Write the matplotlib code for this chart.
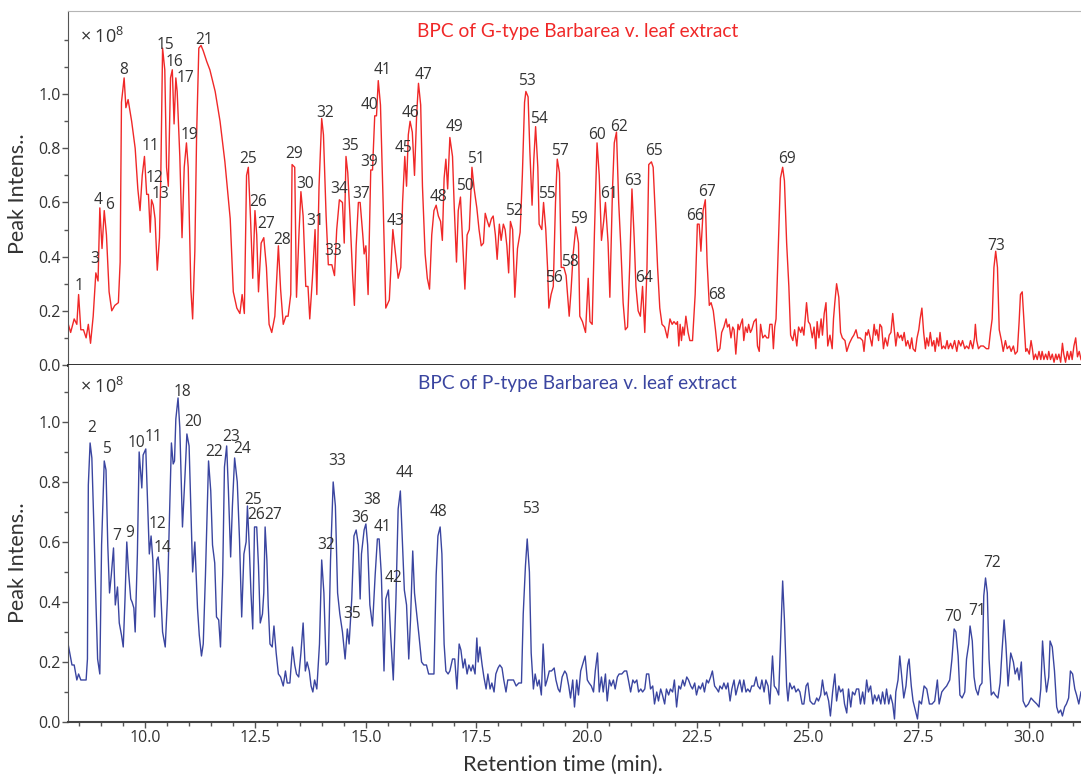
import matplotlib
matplotlib.use("Agg")
import matplotlib.pyplot as plt
from matplotlib.ticker import FixedLocator
import numpy as np

plt.rcParams['font.family'] = ['Open Sans', 'DejaVu Sans']
plt.rcParams['mathtext.fontset'] = 'custom'
plt.rcParams['mathtext.rm'] = 'Open Sans'

# ---------------- data: G-type BPC (time min, intensity x1e8) ----------------
g_trace = [
    (8.25,0.16),(8.32,0.12),(8.40,0.17),(8.46,0.15),(8.50,0.26),(8.55,0.13),(8.61,0.13),(8.67,0.10),
    (8.72,0.15),(8.77,0.08),(8.83,0.18),(8.89,0.34),(8.94,0.31),(8.98,0.58),(9.03,0.43),(9.08,0.57),
    (9.13,0.48),(9.19,0.27),(9.25,0.20),(9.32,0.22),(9.40,0.23),(9.44,0.38),(9.47,0.97),(9.53,1.06),
    (9.57,0.95),(9.62,0.98),(9.70,0.90),(9.78,0.80),(9.84,0.65),(9.89,0.57),(9.94,0.70),(9.99,0.77),
    (10.04,0.63),(10.08,0.63),(10.12,0.49),(10.15,0.61),(10.19,0.59),(10.23,0.54),(10.28,0.35),(10.33,0.47),
    (10.36,0.70),(10.40,1.17),(10.45,1.09),(10.49,0.73),(10.53,0.66),(10.58,1.06),(10.62,1.09),(10.66,0.89),
    (10.70,1.06),(10.73,1.01),(10.79,0.77),(10.84,0.47),(10.89,0.73),(10.94,0.82),(10.98,0.73),(11.04,0.28),
    (11.08,0.17),(11.13,0.42),(11.17,0.85),(11.22,1.17),(11.27,1.18),(11.32,1.16),(11.40,1.12),(11.47,1.09),
    (11.59,1.01),(11.70,0.90),(11.81,0.75),(11.93,0.54),(12.00,0.27),(12.08,0.21),(12.15,0.19),(12.20,0.26),
    (12.25,0.19),(12.30,0.70),(12.34,0.73),(12.39,0.54),(12.44,0.32),(12.49,0.57),(12.53,0.48),(12.57,0.27),
    (12.63,0.45),(12.69,0.47),(12.75,0.36),(12.81,0.15),(12.87,0.12),(12.94,0.18),(13.02,0.44),(13.07,0.28),
    (13.13,0.15),(13.19,0.18),(13.24,0.18),(13.30,0.26),(13.33,0.74),(13.39,0.73),(13.43,0.25),(13.49,0.50),
    (13.53,0.64),(13.58,0.55),(13.64,0.29),(13.69,0.29),(13.73,0.17),(13.79,0.32),(13.85,0.50),(13.89,0.26),
    (13.94,0.66),(14.00,0.91),(14.04,0.85),(14.10,0.55),(14.15,0.37),(14.23,0.37),(14.29,0.33),(14.34,0.50),
    (14.40,0.61),(14.47,0.60),(14.51,0.45),(14.55,0.77),(14.59,0.71),(14.64,0.55),(14.70,0.33),(14.74,0.22),
    (14.78,0.44),(14.83,0.60),(14.87,0.60),(14.93,0.48),(14.96,0.41),(15.00,0.44),(15.05,0.26),(15.11,0.72),
    (15.15,0.72),(15.20,0.92),(15.24,0.92),(15.28,1.05),(15.33,0.96),(15.39,0.60),(15.45,0.21),(15.53,0.24),
    (15.61,0.50),(15.67,0.41),(15.73,0.32),(15.79,0.36),(15.83,0.60),(15.88,0.77),(15.92,0.66),(15.96,0.85),
    (16.00,0.90),(16.05,0.86),(16.10,0.70),(16.15,0.93),(16.19,1.04),(16.24,0.96),(16.28,0.66),(16.34,0.41),
    (16.39,0.32),(16.44,0.28),(16.49,0.48),(16.54,0.57),(16.59,0.59),(16.64,0.55),(16.69,0.53),(16.73,0.46),
    (16.77,0.69),(16.81,0.76),(16.85,0.65),(16.90,0.84),(16.96,0.77),(17.00,0.58),(17.05,0.38),(17.09,0.57),
    (17.14,0.62),(17.19,0.45),(17.24,0.28),(17.29,0.48),(17.34,0.50),(17.40,0.73),(17.45,0.65),(17.51,0.58),
    (17.56,0.50),(17.61,0.44),(17.66,0.45),(17.70,0.56),(17.75,0.53),(17.79,0.51),(17.84,0.54),(17.88,0.55),
    (17.93,0.48),(17.97,0.39),(18.02,0.52),(18.06,0.46),(18.11,0.52),(18.15,0.50),(18.19,0.44),(18.23,0.34),
    (18.27,0.53),(18.32,0.50),(18.37,0.25),(18.43,0.43),(18.49,0.49),(18.54,0.70),(18.59,0.97),(18.62,1.01),
    (18.67,0.99),(18.71,0.79),(18.76,0.59),(18.80,0.76),(18.84,0.88),(18.89,0.73),(18.92,0.52),(18.98,0.50),
    (19.02,0.60),(19.07,0.50),(19.11,0.36),(19.14,0.21),(19.19,0.26),(19.24,0.29),(19.29,0.60),(19.33,0.76),
    (19.38,0.71),(19.42,0.36),(19.48,0.36),(19.53,0.33),(19.60,0.18),(19.64,0.27),(19.69,0.41),(19.75,0.51),
    (19.81,0.45),(19.84,0.18),(19.90,0.16),(19.97,0.12),(20.03,0.32),(20.07,0.16),(20.12,0.15),(20.17,0.48),
    (20.23,0.82),(20.28,0.70),(20.33,0.46),(20.38,0.53),(20.42,0.60),(20.48,0.45),(20.52,0.25),(20.58,0.65),
    (20.62,0.82),(20.67,0.86),(20.72,0.60),(20.77,0.43),(20.82,0.23),(20.87,0.13),(20.92,0.14),(20.97,0.37),
    (21.02,0.65),(21.07,0.47),(21.11,0.29),(21.16,0.20),(21.21,0.18),(21.26,0.29),(21.31,0.12),(21.36,0.36),
    (21.40,0.74),(21.46,0.75),(21.50,0.73),(21.55,0.55),(21.60,0.36),(21.65,0.21),(21.70,0.15),(21.76,0.14),
    (21.82,0.10),(21.88,0.17),(21.93,0.15),(21.97,0.16),(22.02,0.15),(22.05,0.16),(22.08,0.07),(22.11,0.15),
    (22.14,0.09),(22.17,0.14),(22.20,0.11),(22.24,0.18),(22.29,0.12),(22.33,0.09),(22.39,0.09),(22.45,0.26),
    (22.50,0.52),(22.54,0.52),(22.58,0.42),(22.63,0.57),(22.68,0.61),(22.72,0.38),(22.77,0.22),(22.81,0.23),
    (22.86,0.20),(22.91,0.13),(22.96,0.05),(23.01,0.06),(23.05,0.12),(23.10,0.14),(23.15,0.17),(23.18,0.14),
    (23.22,0.15),(23.26,0.10),(23.30,0.14),(23.33,0.13),(23.37,0.04),(23.42,0.15),(23.45,0.13),(23.48,0.15),
    (23.52,0.17),(23.55,0.09),(23.59,0.14),(23.63,0.12),(23.66,0.15),(23.70,0.12),(23.73,0.13),(23.78,0.16),
    (23.83,0.17),(23.86,0.07),(23.90,0.05),(23.93,0.15),(23.98,0.10),(24.03,0.11),(24.07,0.10),(24.11,0.10),
    (24.14,0.15),(24.19,0.15),(24.22,0.06),(24.25,0.14),(24.28,0.17),(24.34,0.48),(24.38,0.69),(24.43,0.73),
    (24.47,0.68),(24.52,0.45),(24.57,0.29),(24.61,0.11),(24.66,0.09),(24.70,0.13),(24.75,0.07),(24.79,0.14),
    (24.84,0.12),(24.87,0.14),(24.91,0.11),(24.97,0.23),(25.01,0.16),(25.05,0.15),(25.10,0.10),(25.14,0.14),
    (25.18,0.06),(25.21,0.16),(25.25,0.10),(25.30,0.17),(25.33,0.11),(25.37,0.19),(25.41,0.23),(25.45,0.07),
    (25.50,0.11),(25.55,0.06),(25.58,0.17),(25.61,0.23),(25.65,0.30),(25.70,0.25),(25.74,0.12),(25.78,0.10),
    (25.84,0.09),(25.88,0.05),(25.94,0.08),(26.00,0.10),(26.04,0.11),(26.09,0.13),(26.13,0.10),(26.18,0.10),
    (26.24,0.09),(26.27,0.05),(26.31,0.12),(26.34,0.11),(26.37,0.13),(26.41,0.10),(26.45,0.07),(26.50,0.15),
    (26.53,0.11),(26.56,0.13),(26.60,0.09),(26.63,0.15),(26.67,0.14),(26.71,0.06),(26.75,0.10),(26.80,0.07),
    (26.84,0.11),(26.88,0.12),(26.92,0.19),(26.96,0.12),(26.99,0.07),(27.03,0.12),(27.07,0.10),(27.11,0.11),
    (27.14,0.09),(27.18,0.12),(27.22,0.07),(27.26,0.09),(27.31,0.06),(27.35,0.10),(27.38,0.06),(27.43,0.05),
    (27.47,0.10),(27.51,0.13),(27.54,0.17),(27.58,0.21),(27.62,0.12),(27.66,0.06),(27.69,0.10),(27.73,0.07),
    (27.77,0.12),(27.81,0.07),(27.85,0.09),(27.88,0.05),(27.92,0.10),(27.96,0.07),(27.99,0.12),(28.03,0.06),
    (28.07,0.07),(28.11,0.06),(28.15,0.09),(28.18,0.06),(28.23,0.08),(28.27,0.06),(28.32,0.09),(28.37,0.05),
    (28.41,0.09),(28.46,0.07),(28.50,0.09),(28.55,0.06),(28.59,0.07),(28.64,0.06),(28.68,0.09),(28.73,0.06),
    (28.77,0.10),(28.79,0.15),(28.82,0.09),(28.86,0.06),(28.91,0.07),(28.97,0.07),(29.04,0.06),(29.09,0.06),
    (29.13,0.12),(29.17,0.17),(29.21,0.36),(29.25,0.42),(29.29,0.36),(29.33,0.13),(29.38,0.09),(29.42,0.05),
    (29.47,0.09),(29.51,0.06),(29.56,0.07),(29.60,0.05),(29.65,0.07),(29.69,0.04),(29.74,0.05),(29.78,0.16),
    (29.81,0.26),(29.85,0.27),(29.89,0.16),(29.93,0.05),(29.96,0.06),(30.01,0.04),(30.05,0.09),(30.08,0.06),
    (30.11,0.02),(30.15,0.04),(30.19,0.02),(30.23,0.05),(30.27,0.02),(30.30,0.05),(30.34,0.02),(30.38,0.04),
    (30.42,0.02),(30.45,0.05),(30.49,0.02),(30.53,0.04),(30.57,0.01),(30.61,0.04),(30.64,0.02),(30.68,0.04),
    (30.72,0.01),(30.76,0.08),(30.79,0.04),(30.83,0.01),(30.87,0.05),(30.91,0.02),(30.95,0.05),(30.98,0.02),
    (31.02,0.07),(31.06,0.10),(31.10,0.03),(31.14,0.05),(31.18,0.02),
]

# ---------------- data: P-type BPC ----------------
p_trace = [
    (8.25,0.27),(8.30,0.23),(8.35,0.19),(8.40,0.19),(8.46,0.14),(8.50,0.16),(8.55,0.14),(8.61,0.14),
    (8.67,0.14),(8.70,0.21),(8.72,0.79),(8.76,0.93),(8.80,0.88),(8.85,0.63),(8.89,0.41),(8.93,0.21),
    (8.98,0.16),(9.02,0.59),(9.08,0.87),(9.12,0.84),(9.16,0.59),(9.20,0.43),(9.24,0.49),(9.29,0.58),
    (9.33,0.39),(9.38,0.45),(9.42,0.33),(9.47,0.29),(9.51,0.25),(9.55,0.41),(9.59,0.60),(9.63,0.50),
    (9.68,0.41),(9.71,0.40),(9.75,0.38),(9.78,0.30),(9.83,0.56),(9.87,0.90),(9.93,0.78),(9.96,0.89),
    (10.02,0.91),(10.06,0.74),(10.10,0.56),(10.14,0.62),(10.18,0.54),(10.22,0.35),(10.27,0.54),(10.30,0.55),
    (10.34,0.49),(10.40,0.30),(10.46,0.25),(10.51,0.41),(10.55,0.65),(10.60,0.93),(10.64,0.86),(10.67,0.87),
    (10.70,1.01),(10.75,1.08),(10.79,0.98),(10.85,0.65),(10.91,0.83),(10.95,0.96),(11.00,0.92),(11.04,0.71),
    (11.08,0.50),(11.13,0.60),(11.19,0.38),(11.23,0.29),(11.28,0.22),(11.32,0.26),(11.37,0.49),(11.44,0.87),
    (11.49,0.77),(11.53,0.59),(11.58,0.53),(11.62,0.35),(11.67,0.34),(11.71,0.25),(11.76,0.49),(11.80,0.85),
    (11.85,0.92),(11.89,0.77),(11.94,0.55),(11.98,0.72),(12.03,0.88),(12.09,0.80),(12.14,0.61),(12.19,0.35),
    (12.24,0.56),(12.29,0.60),(12.32,0.72),(12.36,0.59),(12.40,0.43),(12.44,0.31),(12.48,0.65),(12.53,0.65),
    (12.57,0.52),(12.61,0.33),(12.66,0.36),(12.69,0.43),(12.72,0.65),(12.76,0.54),(12.79,0.39),(12.83,0.26),
    (12.88,0.25),(12.92,0.32),(12.97,0.23),(13.02,0.16),(13.07,0.15),(13.13,0.12),(13.18,0.17),(13.22,0.13),
    (13.28,0.13),(13.34,0.25),(13.39,0.19),(13.43,0.16),(13.48,0.15),(13.53,0.23),(13.58,0.33),(13.63,0.17),
    (13.67,0.20),(13.72,0.17),(13.76,0.12),(13.80,0.10),(13.84,0.14),(13.89,0.11),(13.95,0.26),(14.00,0.54),
    (14.05,0.43),(14.10,0.19),(14.15,0.20),(14.20,0.54),(14.26,0.80),(14.31,0.72),(14.36,0.43),(14.41,0.36),
    (14.47,0.30),(14.53,0.21),(14.58,0.31),(14.62,0.26),(14.68,0.41),(14.73,0.62),(14.78,0.64),(14.83,0.59),
    (14.87,0.41),(14.90,0.56),(14.96,0.64),(15.00,0.66),(15.04,0.59),(15.09,0.39),(15.15,0.32),(15.21,0.49),
    (15.26,0.61),(15.30,0.61),(15.35,0.49),(15.41,0.17),(15.45,0.41),(15.51,0.44),(15.56,0.29),(15.62,0.14),
    (15.68,0.41),(15.73,0.71),(15.78,0.77),(15.82,0.62),(15.87,0.44),(15.92,0.39),(15.97,0.21),(16.01,0.34),
    (16.06,0.57),(16.10,0.43),(16.15,0.36),(16.20,0.29),(16.26,0.20),(16.31,0.19),(16.37,0.19),(16.42,0.16),
    (16.48,0.16),(16.54,0.16),(16.59,0.49),(16.63,0.62),(16.68,0.65),(16.72,0.56),(16.77,0.26),(16.81,0.17),
    (16.86,0.16),(16.90,0.17),(16.96,0.21),(17.01,0.21),(17.06,0.11),(17.11,0.26),(17.15,0.24),(17.20,0.18),
    (17.24,0.21),(17.29,0.16),(17.33,0.19),(17.38,0.17),(17.42,0.19),(17.47,0.16),(17.51,0.28),(17.54,0.20),
    (17.58,0.25),(17.63,0.19),(17.67,0.15),(17.72,0.11),(17.76,0.16),(17.81,0.11),(17.85,0.13),(17.90,0.10),
    (17.94,0.16),(17.99,0.18),(18.03,0.19),(18.08,0.18),(18.12,0.14),(18.17,0.10),(18.21,0.14),(18.27,0.14),
    (18.34,0.14),(18.40,0.12),(18.46,0.13),(18.52,0.13),(18.56,0.36),(18.61,0.52),(18.65,0.61),(18.70,0.50),
    (18.74,0.23),(18.79,0.11),(18.83,0.16),(18.88,0.12),(18.92,0.14),(18.97,0.09),(19.01,0.26),(19.06,0.12),
    (19.10,0.14),(19.15,0.17),(19.20,0.17),(19.26,0.18),(19.30,0.14),(19.35,0.11),(19.39,0.10),(19.44,0.15),
    (19.50,0.17),(19.54,0.16),(19.59,0.12),(19.63,0.08),(19.68,0.14),(19.72,0.05),(19.77,0.14),(19.81,0.09),
    (19.86,0.17),(19.90,0.19),(19.96,0.22),(20.01,0.14),(20.05,0.13),(20.10,0.12),(20.15,0.10),(20.19,0.17),
    (20.24,0.23),(20.28,0.10),(20.33,0.15),(20.37,0.10),(20.42,0.16),(20.46,0.07),(20.51,0.14),(20.55,0.12),
    (20.60,0.14),(20.64,0.11),(20.69,0.15),(20.73,0.16),(20.79,0.16),(20.85,0.17),(20.90,0.17),(20.94,0.14),
    (20.99,0.10),(21.04,0.14),(21.08,0.13),(21.13,0.14),(21.17,0.10),(21.22,0.11),(21.26,0.10),(21.31,0.11),
    (21.35,0.16),(21.40,0.16),(21.44,0.11),(21.49,0.12),(21.53,0.06),(21.58,0.10),(21.62,0.07),(21.67,0.11),
    (21.71,0.09),(21.76,0.06),(21.80,0.11),(21.85,0.09),(21.89,0.11),(21.94,0.10),(21.98,0.14),(22.03,0.05),
    (22.08,0.12),(22.12,0.11),(22.17,0.14),(22.21,0.12),(22.26,0.15),(22.30,0.14),(22.35,0.12),(22.39,0.11),
    (22.44,0.13),(22.48,0.09),(22.53,0.12),(22.57,0.11),(22.62,0.13),(22.66,0.10),(22.71,0.14),(22.75,0.13),
    (22.80,0.15),(22.84,0.17),(22.89,0.12),(22.94,0.11),(22.98,0.10),(23.01,0.12),(23.06,0.11),(23.10,0.13),
    (23.15,0.11),(23.19,0.13),(23.24,0.07),(23.28,0.11),(23.33,0.14),(23.37,0.09),(23.42,0.12),(23.46,0.14),
    (23.51,0.10),(23.55,0.14),(23.60,0.10),(23.64,0.11),(23.69,0.10),(23.73,0.12),(23.78,0.12),(23.83,0.15),
    (23.87,0.12),(23.92,0.11),(23.96,0.14),(24.01,0.10),(24.05,0.14),(24.10,0.12),(24.14,0.06),(24.20,0.22),
    (24.24,0.12),(24.29,0.11),(24.34,0.09),(24.38,0.26),(24.43,0.47),(24.47,0.34),(24.52,0.12),(24.55,0.07),
    (24.59,0.13),(24.64,0.11),(24.69,0.12),(24.73,0.10),(24.78,0.11),(24.82,0.10),(24.87,0.06),(24.91,0.06),
    (24.96,0.12),(25.00,0.13),(25.05,0.07),(25.11,0.06),(25.15,0.06),(25.20,0.08),(25.24,0.07),(25.29,0.09),
    (25.33,0.14),(25.38,0.09),(25.42,0.10),(25.47,0.07),(25.51,0.02),(25.56,0.10),(25.61,0.16),(25.65,0.07),
    (25.70,0.12),(25.74,0.10),(25.79,0.11),(25.83,0.06),(25.88,0.03),(25.92,0.11),(25.97,0.05),(26.01,0.10),
    (26.06,0.09),(26.10,0.11),(26.15,0.11),(26.19,0.06),(26.24,0.10),(26.28,0.06),(26.33,0.14),(26.37,0.10),
    (26.42,0.12),(26.47,0.06),(26.51,0.09),(26.56,0.07),(26.60,0.09),(26.65,0.06),(26.69,0.10),(26.74,0.06),
    (26.78,0.11),(26.83,0.06),(26.87,0.09),(26.92,0.06),(26.96,0.01),(26.99,0.10),(27.04,0.14),(27.08,0.22),
    (27.13,0.14),(27.17,0.08),(27.22,0.12),(27.26,0.19),(27.29,0.21),(27.34,0.12),(27.38,0.07),(27.43,0.04),
    (27.48,0.01),(27.52,0.07),(27.57,0.06),(27.63,0.12),(27.69,0.11),(27.75,0.06),(27.81,0.06),(27.87,0.07),
    (27.93,0.14),(27.97,0.06),(28.03,0.10),(28.08,0.11),(28.14,0.12),(28.21,0.14),(28.26,0.21),(28.31,0.31),
    (28.35,0.30),(28.40,0.22),(28.44,0.09),(28.49,0.08),(28.55,0.10),(28.59,0.21),(28.64,0.26),(28.67,0.32),
    (28.72,0.27),(28.76,0.15),(28.80,0.11),(28.85,0.09),(28.89,0.12),(28.94,0.13),(28.98,0.42),(29.02,0.48),
    (29.06,0.43),(29.10,0.21),(29.15,0.09),(29.20,0.10),(29.24,0.09),(29.30,0.08),(29.35,0.13),(29.39,0.23),
    (29.44,0.34),(29.48,0.26),(29.53,0.12),(29.59,0.23),(29.65,0.20),(29.69,0.16),(29.74,0.18),(29.78,0.14),
    (29.83,0.20),(29.87,0.07),(29.93,0.05),(29.99,0.06),(30.05,0.08),(30.11,0.07),(30.18,0.06),(30.23,0.05),
    (30.27,0.11),(30.31,0.27),(30.36,0.16),(30.40,0.10),(30.45,0.15),(30.48,0.27),(30.53,0.25),(30.58,0.17),
    (30.63,0.05),(30.67,0.03),(30.72,0.04),(30.76,0.02),(30.81,0.05),(30.85,0.06),(30.90,0.08),(30.94,0.17),
    (30.99,0.16),(31.04,0.11),(31.08,0.09),(31.13,0.06),(31.18,0.10),
]

# peak labels: (label, retention time, label height x1e8)
g_labels = [
    ("1",8.50,0.29),("3",8.87,0.39),("4",8.93,0.61),("6",9.19,0.59),("8",9.51,1.09),("11",10.12,0.81),
    ("12",10.21,0.69),("13",10.36,0.63),("15",10.47,1.18),("16",10.68,1.12),("17",10.91,1.06),
    ("19",11.00,0.85),("21",11.35,1.20),("25",12.34,0.76),("26",12.57,0.60),("27",12.75,0.52),
    ("28",13.10,0.46),("29",13.37,0.78),("30",13.62,0.67),("31",13.85,0.53),("32",14.07,0.93),
    ("33",14.26,0.42),("34",14.40,0.65),("35",14.64,0.81),("37",14.89,0.63),("39",15.08,0.75),
    ("40",15.09,0.96),("41",15.37,1.09),("43",15.66,0.53),("45",15.85,0.80),("46",16.01,0.93),
    ("47",16.30,1.07),("48",16.64,0.62),("49",17.00,0.88),("50",17.23,0.66),("51",17.48,0.76),
    ("52",18.34,0.57),("53",18.64,1.05),("54",18.92,0.91),("55",19.10,0.63),("56",19.26,0.32),
    ("57",19.38,0.79),("58",19.62,0.38),("59",19.81,0.54),("60",20.23,0.85),("61",20.51,0.63),
    ("62",20.73,0.88),("63",21.05,0.68),("64",21.29,0.32),("65",21.52,0.79),("66",22.45,0.55),
    ("67",22.72,0.64),("68",22.94,0.26),("69",24.52,0.76),("73",29.26,0.44),
]
p_labels = [
    ("2",8.80,0.98),("5",9.13,0.91),("7",9.36,0.62),("9",9.65,0.63),("10",9.82,0.93),("11",10.20,0.95),
    ("12",10.28,0.66),("14",10.39,0.58),("18",10.85,1.10),("20",11.10,1.00),("22",11.57,0.90),
    ("23",11.95,0.95),("24",12.20,0.91),("25",12.45,0.74),("26",12.52,0.69),("27",12.89,0.69),
    ("32",14.10,0.59),("33",14.35,0.87),("35",14.68,0.36),("36",14.87,0.68),("38",15.13,0.74),
    ("41",15.37,0.65),("42",15.62,0.48),("44",15.87,0.83),("48",16.65,0.70),("53",18.74,0.71),
    ("70",28.29,0.35),("71",28.82,0.37),("72",29.18,0.53),
]

x_ticks = [10.0, 12.5, 15.0, 17.5, 20.0, 22.5, 25.0, 27.5, 30.0]
y_ticks = [0.0, 0.2, 0.4, 0.6, 0.8, 1.0]

g_time, g_int = np.array(g_trace).T
p_time, p_int = np.array(p_trace).T

RED = '#f02828'
BLUE = '#3a45a0'
TXT = '#333333'

fig = plt.figure(figsize=(10.81, 7.76), dpi=100)
ax1 = fig.add_axes([0.0629, 0.5297, 0.9371, 0.4561])
ax2 = fig.add_axes([0.0629, 0.0696, 0.9371, 0.4601])

def style(ax, ytop, minor_top):
    ax.set_xlim(8.26, 31.18)
    ax.set_ylim(0, ytop)
    ax.yaxis.set_major_locator(FixedLocator(y_ticks))
    ax.yaxis.set_minor_locator(FixedLocator([round(0.1 * k, 1) for k in range(1, minor_top + 1) if k % 2 == 1 or k > 10]))
    ax.set_yticklabels(["%.1f" % v for v in y_ticks])
    ax.tick_params(axis='y', which='major', length=4, width=1, color='#555555', labelsize=11.5, labelcolor=TXT, pad=1)
    ax.tick_params(axis='y', which='minor', length=3, width=1, color='#555555')
    ax.spines['right'].set_visible(False)
    ax.spines['left'].set_color('#555555')
    ax.set_facecolor('white')

style(ax1, 1.307, 12)
style(ax2, 1.19, 11)

ax1.plot(g_time, g_int, color=RED, lw=1.0, zorder=1)
ax2.plot(p_time, p_int, color=BLUE, lw=1.0, zorder=1)

ax1.set_xticks([])
ax1.spines['top'].set_color('#b5b5b5')
ax1.spines['bottom'].set_color('#1e1e1e')
ax1.spines['bottom'].set_linewidth(2.0)
ax2.spines['top'].set_visible(False)
ax2.spines['bottom'].set_color('#444444')
ax2.spines['bottom'].set_linewidth(1.5)

ax2.set_xticks(x_ticks)
ax2.set_xticklabels(["%.1f" % v for v in x_ticks])
ax2.set_xticks(np.arange(8.5, 31.1, 0.5), minor=True)
ax2.tick_params(axis='x', which='major', length=4, width=1, color='#555555', labelsize=11.5, labelcolor=TXT, pad=2)
ax2.tick_params(axis='x', which='minor', length=3, width=1, color='#555555')

for lab, t, h in g_labels:
    ax1.text(t, h, lab, ha='center', va='center', fontsize=11.2, color=TXT)
for lab, t, h in p_labels:
    ax2.text(t, h, lab, ha='center', va='center', fontsize=11.2, color=TXT)

ax1.text(0.503, 0.943, "BPC of G-type Barbarea v. leaf extract", transform=ax1.transAxes,
         ha='center', va='center', fontsize=13.8, color=RED, family=['Lato', 'DejaVu Sans'])
ax2.text(0.503, 0.949, "BPC of P-type Barbarea v. leaf extract", transform=ax2.transAxes,
         ha='center', va='center', fontsize=13.8, color=BLUE, family=['Lato', 'DejaVu Sans'])

for ax, yy in ((ax1, 0.926), (ax2, 0.938)):
    ax.text(0.012, yy, r"× $\mathregular{10^{8}}$", transform=ax.transAxes,
            ha='left', va='center', fontsize=13, color=TXT)

fig.text(18 / 1081, 1 - 194 / 776, "Peak Intens..", rotation=90, ha='center', va='center',
         fontsize=15.5, color=TXT, family=['Lato', 'DejaVu Sans'])
fig.text(18 / 1081, 1 - 563 / 776, "Peak Intens..", rotation=90, ha='center', va='center',
         fontsize=15.5, color=TXT, family=['Lato', 'DejaVu Sans'])
fig.text(563 / 1081, 1 - 765 / 776, "Retention time (min).", ha='center', va='center',
         fontsize=15.7, color=TXT, family=['Lato', 'DejaVu Sans'])

fig.savefig("out.png", dpi=100, facecolor='white')
